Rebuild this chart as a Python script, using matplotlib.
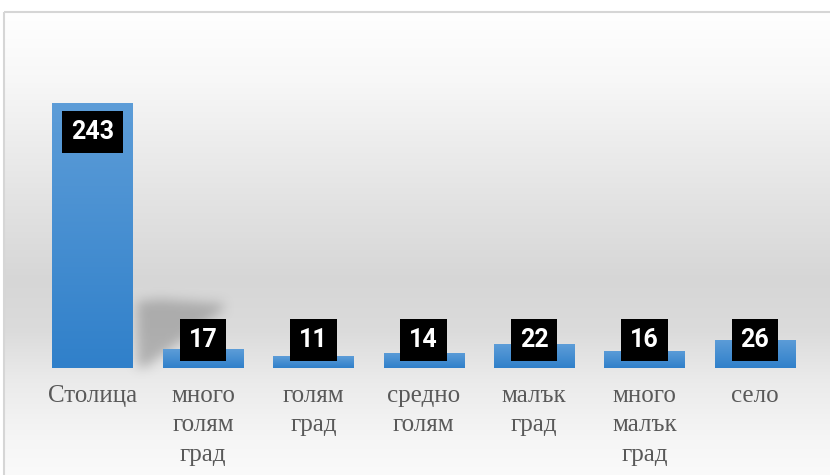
import numpy as np
import matplotlib
matplotlib.use('Agg')
import matplotlib.pyplot as plt
from matplotlib.patches import Rectangle
from matplotlib.path import Path

categories = ['Столица', 'много\nголям\nград', 'голям\nград', 'средно\nголям',
              'малък\nград', 'много\nмалък\nград', 'село']
values = [243, 17, 11, 14, 22, 16, 26]

W, H = 830, 475
fig = plt.figure(figsize=(W / 100, H / 100), dpi=100)
fig.patch.set_facecolor('white')

# background: light frame with a soft vertical grey gradient inside
bg = fig.add_axes([0, 0, 1, 1], zorder=0)
bg.set_xlim(0, W)
bg.set_ylim(H, 0)
bg.axis('off')
yy, xx = np.mgrid[0:H, 0:W]
g = np.interp(yy, [12, 80, 200, 280, 330, 380, 440, 475],
              [1.0, 0.97, 0.89, 0.84, 0.86, 0.92, 0.965, 0.98])
img = np.dstack([g, g, g])
bg.imshow(img, extent=(0, W, H, 0), aspect='auto', interpolation='bilinear')
bg.add_patch(Rectangle((0, 0), W, 12, facecolor='white', edgecolor='none'))
bg.add_patch(Rectangle((0, 0), 4, H, facecolor='white', edgecolor='none'))
bg.add_patch(Rectangle((4, 12), W, H, facecolor='none', edgecolor='#d6d6d6', lw=1.5))

base_y = 368
px_per_unit = 265 / 243.0
ymax = 300
ax = fig.add_axes([37.3 / W, (H - base_y) / H, 772.8 / W, ymax * px_per_unit / H], zorder=1)
ax.patch.set_alpha(0)
x = np.arange(len(values))
bw = 0.725
ax.set_xlim(-0.5, len(values) - 0.5)
ax.set_ylim(0, ymax)

# blurred shadow falling behind the tall first bar
sx = bw / 2
shadow = np.array([(sx + 0.04, 1), (sx + 0.04, 61), (sx + 0.25, 63), (sx + 0.82, 59),
                   (sx + 0.82, 54), (sx + 0.12, 1)])
pts = ax.transData.transform(shadow)
pts[:, 1] = H - pts[:, 1]
mask = Path(pts).contains_points(np.c_[xx.ravel() + 0.5, yy.ravel() + 0.5]).reshape(H, W).astype(float)


def box_blur(a, r):
    for axis in (0, 1):
        c = np.cumsum(np.pad(a, [(r + 1, r) if i == axis else (0, 0) for i in range(2)]), axis=axis)
        if axis == 0:
            a = (c[2 * r + 1:] - c[:-2 * r - 1]) / (2 * r + 1)
        else:
            a = (c[:, 2 * r + 1:] - c[:, :-2 * r - 1]) / (2 * r + 1)
    return a


for _ in range(3):
    mask = box_blur(mask, 5)
shade = np.zeros((H, W, 4))
shade[..., :3] = 0.5
shade[..., 3] = mask * 0.5
bg.imshow(shade, extent=(0, W, H, 0), aspect='auto', interpolation='bilinear', zorder=2)

bars = ax.bar(x, values, width=bw, color='#4a90d4', zorder=2)
grad = np.linspace(0, 1, 100).reshape(-1, 1)
top_c = np.array([0x5d, 0x9d, 0xd8]) / 255
bot_c = np.array([0x30, 0x80, 0xca]) / 255
gimg = top_c * (1 - grad[..., None]) + bot_c * grad[..., None]
for b in bars:
    bx, by = b.get_x(), b.get_y()
    im = ax.imshow(gimg, extent=(bx, bx + b.get_width(), by, by + b.get_height()),
                   aspect='auto', zorder=3, origin='upper')
    im.set_clip_path(b)

for xi, v in zip(x, values):
    ly = max(v - 27, 26)
    ax.text(xi, ly, str(v), ha='center', va='center', color='white',
            fontsize=18, fontweight='bold', family='Roboto', zorder=5,
            bbox=dict(boxstyle='square,pad=0.36', facecolor='black', edgecolor='none'))

ax.set_xticks(x)
ax.set_xticklabels(categories, family='Liberation Serif', fontsize=18, color='#595959',
                   linespacing=1.45)
ax.tick_params(axis='x', length=0, pad=12)
ax.set_yticks([])
for s in ax.spines.values():
    s.set_visible(False)

fig.savefig('out.png', dpi=100)
